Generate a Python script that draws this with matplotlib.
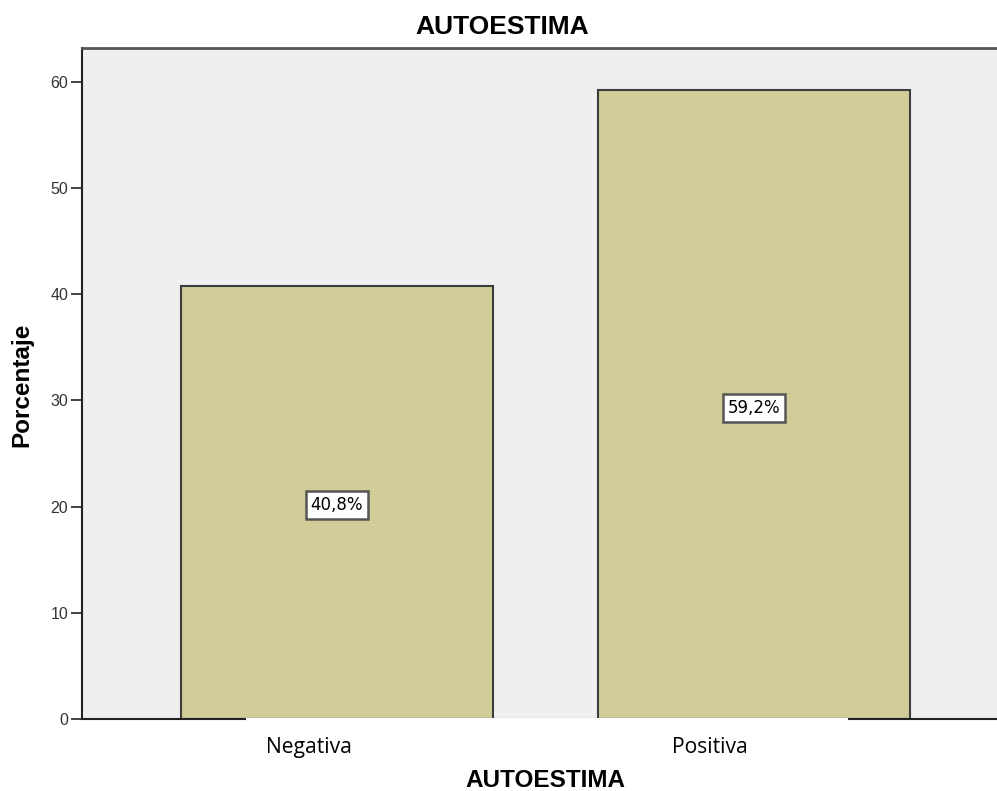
import matplotlib
matplotlib.use("Agg")
import matplotlib.pyplot as plt
from matplotlib.patches import Rectangle
from matplotlib.transforms import ScaledTranslation

categories = ["Negativa", "Positiva"]
percentages = [40.8, 59.2]
value_labels = ["40,8%", "59,2%"]
y_ticks = [0, 10, 20, 30, 40, 50, 60]

W, H = 997, 791
fig = plt.figure(figsize=(W / 100, H / 100), dpi=100)
ax = fig.add_axes([82 / W, (H - 719) / H, 1 - 82 / W, (719 - 48) / H])
ax.set_facecolor("#EFEFEF")

x = list(range(len(categories)))
ax.bar(x, percentages, width=0.748, color="#D2CD98", edgecolor="#3C3C3C",
       linewidth=1.5, zorder=2)
for xi, v, lab in zip(x, percentages, value_labels):
    ax.annotate(lab, (xi, v / 2), xytext=(0, -2), textcoords="offset points",
                ha="center", va="center", fontsize=12,
                family="DejaVu Sans", color="black", zorder=4,
                bbox=dict(boxstyle="square,pad=0.3", facecolor="white",
                          edgecolor="#555555", linewidth=1.8))

ax.set_xlim(-0.611, 1.583)
ax.set_ylim(0, 63.2)
ax.set_yticks(y_ticks)
ax.set_yticklabels([str(t) for t in y_ticks], fontsize=11.5,
                   family="Liberation Sans", color="#333333")
ax.set_xticks(x)
ax.set_xticklabels(categories, family="Open Sans", fontsize=15.2)
ax.tick_params(axis="x", length=0, pad=13)
ax.tick_params(axis="y", length=8, width=1.2, color="#222222", pad=2)
ax.xaxis.set_zorder(5)

# the category labels sit slightly left of the bar centres in the original
for lbl, dx in zip(ax.get_xticklabels(), [-28, -44]):
    lbl.set_transform(lbl.get_transform() +
                      ScaledTranslation(dx / 100, 0, fig.dpi_scale_trans))

ax.spines["right"].set_visible(False)
ax.spines["top"].set_color("#555555")
ax.spines["top"].set_linewidth(2)
ax.spines["left"].set_color("#222222")
ax.spines["left"].set_linewidth(1.5)
ax.spines["bottom"].set_color("#222222")
ax.spines["bottom"].set_linewidth(1.5)

fig.text(22 / W, 1 - 385 / H, "Porcentaje", ha="center", va="center",
         rotation=90, fontsize=17.5, fontweight="bold",
         family="Liberation Sans")

fig.text(502.5 / W, 1 - 27 / H, "AUTOESTIMA", ha="center", va="center",
         fontsize=19, fontweight="bold", family="Liberation Sans")
fig.text(545.5 / W, 1 - 780.5 / H, "AUTOESTIMA", ha="center", va="center",
         fontsize=17.5, fontweight="bold", family="Liberation Sans")

# white strip covering the lower edge between the bars
ax.add_patch(Rectangle((246 / W, 0), (848 - 246) / W, (H - 717.6) / H,
                       transform=fig.transFigure, facecolor="white",
                       edgecolor="none", zorder=3, clip_on=False))

fig.savefig("out.png", dpi=100)
